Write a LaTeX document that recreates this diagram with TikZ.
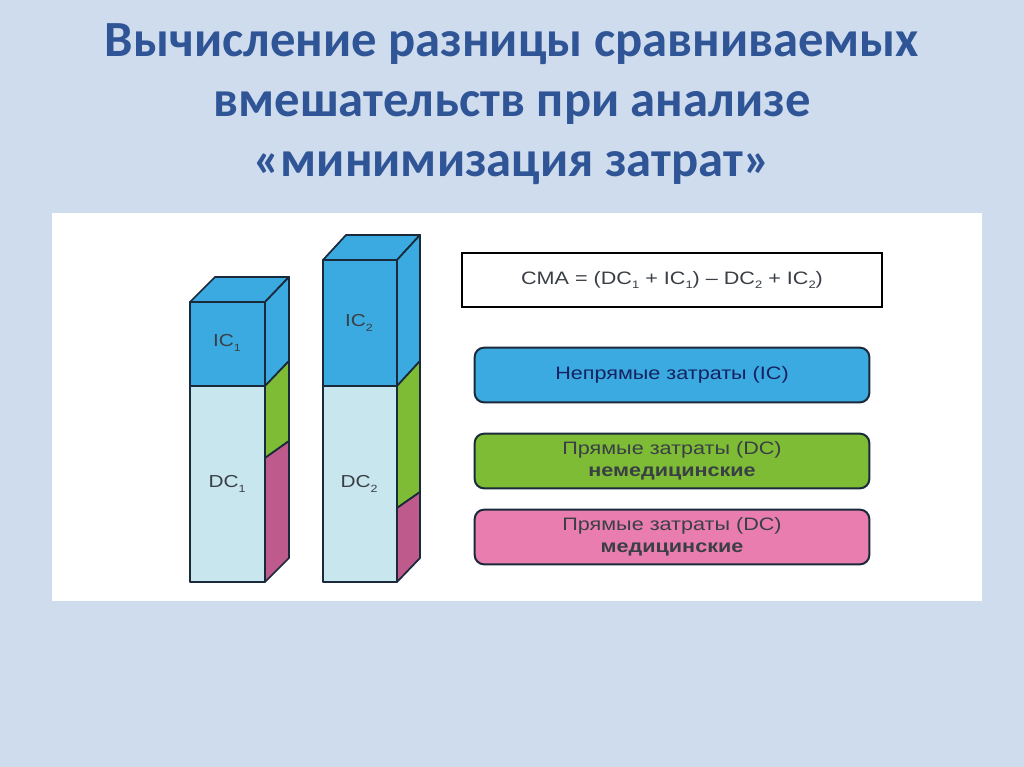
\documentclass[tikz,border=0pt]{standalone}
\usepackage{fontspec}
\setmainfont{Liberation Sans}
\newfontfamily\titlefont{Carlito}
\newfontfamily\widefont[FakeStretch=1.2]{Liberation Sans}
\definecolor{bg}{HTML}{CFDCEE}
\definecolor{titleblue}{HTML}{2F5597}
\definecolor{cblue}{HTML}{3AAAE0}
\definecolor{clight}{HTML}{C8E6EE}
\definecolor{cgreen}{HTML}{7DBC34}
\definecolor{cpink}{HTML}{BE5A8C}
\definecolor{lpink}{HTML}{E97DAF}
\definecolor{edge}{HTML}{1A2A3A}
\definecolor{txt}{HTML}{3A3F45}
\newcommand{\lowsub}[1]{\raisebox{-0.45ex}{\fontsize{0.6em}{0.6em}\selectfont #1}}
\tikzset{
  face/.style={draw=edge, line width=1.3pt, line join=round},
  barlabel/.style={font=\widefont\fontsize{13}{15}\selectfont, text=txt},
  legendbox/.style={draw=edge, line width=1.5pt, rounded corners=7pt, minimum width=296pt, minimum height=41pt, align=center, text=txt, font=\widefont\fontsize{13.5}{16.5}\selectfont},
}
\begin{document}
\begin{tikzpicture}[x=0.75pt,y=-0.75pt]
\useasboundingbox (0,0) rectangle (1024,767);
\fill[bg] (0,0) rectangle (1024,767);
\fill[white] (52,213) rectangle (982,601);
% title
\node[font=\titlefont\bfseries\fontsize{38}{45}\selectfont, text=titleblue, align=center] (title) at (512,104)
  {Вычисление разницы сравниваемых\\вмешательств при анализе\\«минимизация затрат»};
% bar 1
\filldraw[face, fill=cblue] (190,302) -- (215,277) -- (289,277) -- (265,302) -- cycle;
\filldraw[face, fill=cblue] (265,302) -- (289,277) -- (289,361) -- (265,386) -- cycle;
\filldraw[face, fill=cgreen] (265,386) -- (289,361) -- (289,441) -- (265,458) -- cycle;
\filldraw[face, fill=cpink] (265,458) -- (289,441) -- (289,558) -- (265,582) -- cycle;
\filldraw[face, fill=cblue] (190,302) rectangle (265,386);
\filldraw[face, fill=clight] (190,386) rectangle (265,582);
\node[barlabel] (ic1) at (227,343) {IC\lowsub{1}};
\node[barlabel] (dc1) at (227,484) {DC\lowsub{1}};
% bar 2
\filldraw[face, fill=cblue] (323,260) -- (346,235) -- (420,235) -- (397,260) -- cycle;
\filldraw[face, fill=cblue] (397,260) -- (420,235) -- (420,361) -- (397,386) -- cycle;
\filldraw[face, fill=cgreen] (397,386) -- (420,361) -- (420,492) -- (397,508) -- cycle;
\filldraw[face, fill=cpink] (397,508) -- (420,492) -- (420,558) -- (397,582) -- cycle;
\filldraw[face, fill=cblue] (323,260) rectangle (397,386);
\filldraw[face, fill=clight] (323,386) rectangle (397,582);
\node[barlabel] (ic2) at (359,323) {IC\lowsub{2}};
\node[barlabel] (dc2) at (359,484) {DC\lowsub{2}};
% formula
\node[draw=black, line width=1.6pt, minimum width=315pt, minimum height=41pt, text=txt, font=\widefont\fontsize{13.5}{16}\selectfont] (cma) at (672,280)
  {\raisebox{-3pt}{CMA = (DC\lowsub{1} + IC\lowsub{1}) – DC\lowsub{2} + IC\lowsub{2})}};
% legend
\node[legendbox, fill=cblue, text=edge!80!blue] (ic) at (672,375) {\raisebox{-3pt}{Непрямые затраты (IC)}};
\node[legendbox, fill=cgreen] (dcn) at (672,461) {Прямые затраты (DC)\\\textbf{немедицинские}};
\node[legendbox, fill=lpink] (dcm) at (672,537) {Прямые затраты (DC)\\\textbf{медицинские}};
\end{tikzpicture}
\end{document}
